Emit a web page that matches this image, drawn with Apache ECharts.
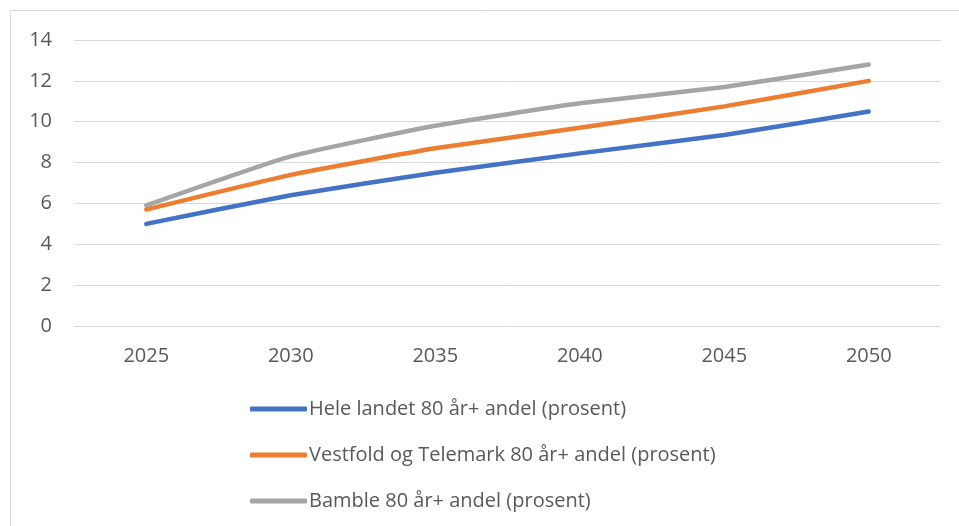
<!DOCTYPE html>
<html>
<head>
<meta charset="utf-8">
<script src="https://cdn.jsdelivr.net/npm/echarts@6/dist/echarts.min.js"></script>
<style>
  html, body { margin: 0; padding: 0; background: #fff; }
  #chart { width: 959px; height: 526px; }
</style>
</head>
<body>
<div id="chart"></div>
<script>
const years = ['2025', '2030', '2035', '2040', '2045', '2050'];
const heleLandet = [5.0, 6.4, 7.5, 8.45, 9.35, 10.5];
const vestfoldTelemark = [5.7, 7.4, 8.7, 9.7, 10.75, 12.0];
const bamble = [5.9, 8.3, 9.8, 10.9, 11.7, 12.8];
const seriesNames = [
  'Hele landet 80 år+ andel (prosent)',
  'Vestfold og Telemark 80 år+ andel (prosent)',
  'Bamble 80 år+ andel (prosent)'
];

const textColor = '#595959';
const fontFamily = 'Open Sans, sans-serif';

const myChart = echarts.init(document.getElementById('chart'));

const makeSeries = (name, data, color) => ({
  name: name,
  type: 'line',
  data: data,
  smooth: 0.15,
  showSymbol: false,
  symbol: 'none',
  lineStyle: { width: 4.5, color: color, cap: 'round', join: 'round' },
  itemStyle: { color: color }
});

const option = {
  backgroundColor: '#ffffff',
  animation: false,
  graphic: [
    {
      type: 'rect',
      shape: { x: 10.5, y: 10.5, width: 980, height: 560 },
      style: { fill: 'none', stroke: '#d9d9d9', lineWidth: 1 }
    }
  ],
  legend: {
    orient: 'vertical',
    left: 245,
    top: 394,
    itemWidth: 57,
    itemHeight: 5,
    itemGap: 26,
    icon: 'roundRect',
    textStyle: { color: textColor, fontSize: 20, fontFamily: fontFamily, padding: [0, 0, 0, -3] },
    data: seriesNames
  },
  grid: {
    left: 74,
    right: 18,
    top: 40,
    bottom: 200,
    containLabel: false
  },
  xAxis: {
    type: 'category',
    data: years,
    boundaryGap: true,
    axisLine: { show: false },
    axisTick: { show: false },
    axisLabel: {
      color: textColor,
      fontSize: 20,
      fontFamily: fontFamily,
      margin: 20
    }
  },
  yAxis: {
    type: 'value',
    min: 0,
    max: 14,
    interval: 2,
    axisLine: { show: false },
    axisTick: { show: false },
    splitLine: { lineStyle: { color: '#d9d9d9', width: 1 } },
    axisLabel: {
      color: textColor,
      fontSize: 20,
      fontFamily: fontFamily,
      margin: 22
    }
  },
  series: [
    makeSeries(seriesNames[0], heleLandet, '#4472c4'),
    makeSeries(seriesNames[1], vestfoldTelemark, '#ed7d31'),
    makeSeries(seriesNames[2], bamble, '#a5a5a5')
  ]
};

option && myChart.setOption(option);
</script>
</body>
</html>
